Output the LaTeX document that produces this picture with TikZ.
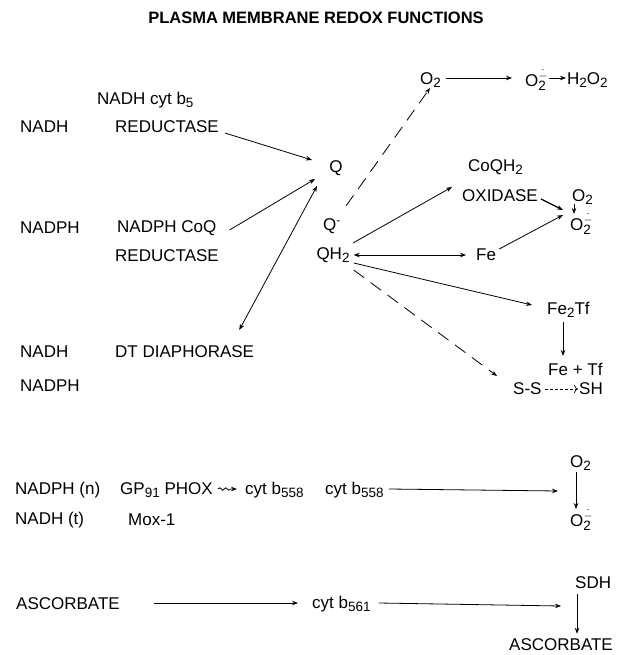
\documentclass[tikz,border=0pt]{standalone}
\usepackage{fontspec}
\setmainfont{Liberation Sans}
\usetikzlibrary{arrows.meta,decorations.pathmorphing}
\newcommand{\lo}[1]{\raisebox{-0.4ex}{\fontsize{13.5}{13.5}\selectfont #1}}
\newcommand{\supox}{O\rlap{\lo{2}}\raisebox{0.8ex}{\fontsize{12}{12}\selectfont$\dot{-}$}}
\begin{document}
\begin{tikzpicture}[x=1pt,y=-1pt,
  every node/.style={inner sep=0pt, font=\fontsize{17}{20}\selectfont},
  lbl/.style={anchor=west},
  arr/.style={-{Stealth[length=6pt,width=4.5pt]}, line width=0.8pt},
  dbl/.style={{Stealth[length=6pt,width=4.5pt]}-{Stealth[length=6pt,width=4.5pt]}, line width=0.8pt},
  darr/.style={arr, dash pattern=on 13pt off 8pt}]
\useasboundingbox (0,0) rectangle (624,655);

\node[font=\bfseries\fontsize{16.5}{19}\selectfont] (title) at (316,18) {PLASMA MEMBRANE REDOX FUNCTIONS};

% left column
\node[lbl] (nadh1) at (20,127) {NADH};
\node[lbl] (cytb5) at (97,100) {NADH cyt b\lo{5}};
\node[lbl] (red1) at (115,127) {REDUCTASE};
\node[lbl] (nadph1) at (20,228) {NADPH};
\node[lbl] (coq) at (117,228) {NADPH CoQ};
\node[lbl] (red2) at (115,256) {REDUCTASE};
\node[lbl] (nadh2) at (20,352) {NADH};
\node[lbl] (dt) at (115,352) {DT DIAPHORASE};
\node[lbl] (nadph2) at (20,386) {NADPH};

% quinones
\node (Q) at (336,168) {Q};
\node (Qm) at (332,226) {Q\textsuperscript{-}};
\node (QH2) at (333,255) {QH\lo{2}};

% top right
\node[lbl] (O2a) at (420,80) {O\lo{2}};
\node[lbl] (supa) at (525,80) {\supox};
\node[lbl] (h2o2) at (567,80) {H\lo{2}O\lo{2}};

\node[lbl] (coqh2) at (468,167) {CoQH\lo{2}};
\node[lbl] (oxid) at (462,196) {OXIDASE};
\node[lbl] (O2b) at (572,197) {O\lo{2}};
\node[lbl] (supb) at (570,224) {\supox};
\node[lbl] (Fe) at (476,255) {Fe};
\node[lbl] (fe2tf) at (547,310) {Fe\lo{2}Tf};
\node[lbl] (fetf) at (548,369) {Fe + Tf};
\node[lbl] (ss) at (513,389) {S-S};
\node[lbl] (sh) at (579,389) {SH};

% arrows to Q
\draw[arr] ([shift={(6,6)}]red1.east) -- ([shift={(-24,-8)}]Q.center);
\draw[arr] ([shift={(13,2)}]coq.east) -- ([shift={(-21,11)}]Q.center);
\draw[dbl] ([shift={(-15,-22)}]dt.east) -- ([shift={(-19,18)}]Q.center);

% from Q- / QH2
\draw[darr] ([shift={(14,-20)}]Qm.center) -- ([shift={(10,8)}]O2a.west);
\draw[arr] ([shift={(5,-2)}]O2a.east) -- ([shift={(-13,-2)}]supa.west);
\draw[arr] ([shift={(1,-2)}]supa.east) -- ([shift={(-1,-2)}]h2o2.west);

\draw[arr] ([shift={(20,-12)}]QH2.center) -- ([shift={(-10,-9)}]oxid.west);
\draw[arr, line width=1.3pt] ([shift={(3,3)}]oxid.east) -- ([shift={(-7,-14)}]supb.west);
\draw[arr] ([shift={(2,7)}]O2b.west) -- ([shift={(4,-10)}]supb.west);
\draw[arr] ([shift={(3,-6)}]Fe.east) -- ([shift={(-7,-9)}]supb.west);
\draw[dbl] ([shift={(4,0)}]QH2.east) -- ([shift={(-10,0)}]Fe.west);
\draw[arr] ([shift={(4,8)}]QH2.east) -- ([shift={(-15,-5)}]fe2tf.west);
\draw[darr] ([shift={(4,15)}]QH2.east) -- ([shift={(-16,-13)}]ss.west);
\draw[arr] ([shift={(16,12)}]fe2tf.west) -- ([shift={(15,-13)}]fetf.west);
\draw[-{To[length=4pt]}, line width=0.7pt, dash pattern=on 3pt off 2pt] ([xshift=3pt]ss.east) -- ([xshift=-1pt]sh.west);

% NADPH oxidase row
\node[lbl] (nadphn) at (15,490) {NADPH (n)};
\node[lbl] (gp) at (120,490) {GP\lo{91} PHOX};
\node[lbl] (cyt1) at (245,490) {cyt b\lo{558}};
\node[lbl] (cyt2) at (325,490) {cyt b\lo{558}};
\node[lbl] (O2c) at (570,463) {O\lo{2}};
\node[lbl] (nadht) at (15,520) {NADH (t)};
\node[lbl] (mox) at (128,520) {Mox-1};
\node[lbl] (supc) at (570,520) {\supox};

\draw[arr, decorate, decoration={snake, amplitude=1.2pt, segment length=6pt, post length=5pt}] ([xshift=5pt,yshift=1pt]gp.east) -- ([xshift=-8pt,yshift=1pt]cyt1.west);
\draw[arr] ([xshift=5pt,yshift=1pt]cyt2.east) -- ([shift={(-12,28)}]O2c.west);
\draw[arr] ([shift={(6,9)}]O2c.west) -- ([shift={(6,-11)}]supc.west);

% ascorbate row
\node[lbl] (asc1) at (16,604) {ASCORBATE};
\node[lbl] (cyt3) at (312,604) {cyt b\lo{561}};
\node[lbl] (sdh) at (575,583) {SDH};
\node[anchor=east] (asc2) at (613,645) {ASCORBATE};

\draw[arr] ([xshift=34pt,yshift=1pt]asc1.east) -- ([xshift=-14pt,yshift=1pt]cyt3.west);
\draw[arr] ([xshift=8pt,yshift=1pt]cyt3.east) -- ([shift={(-14,23)}]sdh.west);
\draw[arr] ([shift={(2,11)}]sdh.west) -- ([shift={(2,-5)}]sdh.west |- asc2.north);
\end{tikzpicture}
\end{document}
